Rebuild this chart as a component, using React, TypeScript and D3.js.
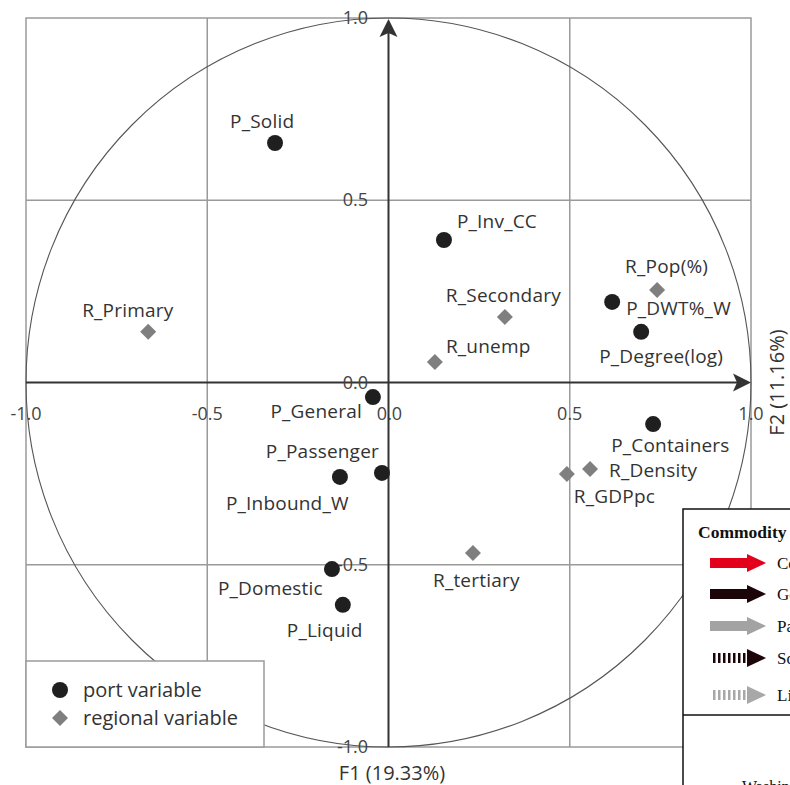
import React from "react";
import { scaleLinear } from "d3";

// port variables (circles)
const portNames = ["P_Solid", "P_Inv_CC", "P_DWT%_W", "P_Degree(log)", "P_General", "P_Passenger", "P_Inbound_W", "P_Domestic", "P_Liquid", "P_Containers"];
const portF1 = [-0.313, 0.153, 0.617, 0.697, -0.043, -0.018, -0.134, -0.156, -0.126, 0.730];
const portF2 = [0.657, 0.391, 0.221, 0.139, -0.040, -0.248, -0.259, -0.512, -0.610, -0.114];

// regional variables (diamonds)
const regionNames = ["R_Primary", "R_Secondary", "R_unemp", "R_Pop(%)", "R_Density", "R_GDPpc", "R_tertiary"];
const regionF1 = [-0.663, 0.321, 0.128, 0.741, 0.556, 0.492, 0.233];
const regionF2 = [0.139, 0.180, 0.056, 0.254, -0.237, -0.251, -0.468];

const ticks = [-1, -0.5, 0, 0.5, 1];
const tickLabels = ["-1.0", "-0.5", "0.0", "0.5", "1.0"];

const commodityLabels = ["Container", "General", "Passenger", "Solid", "Liquid"];

// label placement relative to the marker: [dx, dy, anchor]
const labelOffset: Record<string, [number, number, string]> = {
  "P_Solid": [-45, -15, "start"],
  "R_Primary": [-66, -15, "start"],
  "P_Inv_CC": [13, -12, "start"],
  "R_Secondary": [-59, -15, "start"],
  "R_unemp": [11, -9, "start"],
  "R_Pop(%)": [-32, -17, "start"],
  "P_DWT%_W": [14, 13, "start"],
  "P_Degree(log)": [-42, 31, "start"],
  "P_General": [-11, 21, "end"],
  "P_Passenger": [-3, -15, "end"],
  "P_Inbound_W": [-114, 33, "start"],
  "P_Domestic": [-114, 26, "start"],
  "P_Liquid": [-56, 32, "start"],
  "P_Containers": [-42, 28, "start"],
  "R_Density": [19, 8, "start"],
  "R_GDPpc": [7, 29, "start"],
  "R_tertiary": [-40, 34, "start"],
};

const W = 790;
const H = 785;
const font = "'Open Sans', sans-serif";

export default function App() {
  const x = scaleLinear().domain([-1, 1]).range([26, 751]);
  const y = scaleLinear().domain([-1, 1]).range([747, 18]);
  const x0 = x(0);
  const y0 = y(0);
  const gridCol = "#9a9a9a";
  const axisCol = "#333";
  const txt = "#333";

  const diamond = (cx: number, cy: number, r: number) =>
    `M${cx},${cy - r}L${cx + r},${cy}L${cx},${cy + r}L${cx - r},${cy}Z`;

  const label = (name: string, px: number, py: number) => {
    const [dx, dy, anchor] = labelOffset[name];
    return (
      <text key={"l" + name} x={px + dx} y={py + dy} textAnchor={anchor as any}
        fontFamily={font} fontSize={19} fill={txt} letterSpacing={0.2}>{name}</text>
    );
  };

  // overlay legend (commodity arrows)
  const arrowRows = [563, 594, 626, 658, 695];
  const arrowCols = ["#e3001b", "#1c0508", "#a3a3a3", "#1c0508", "#a8a8a8"];

  return (
    <svg width={W} height={H} style={{ position: "absolute", left: 0, top: 0, background: "#fff" }}>
      <rect x={0} y={0} width={W} height={H} fill="#fff" />
      {/* frame */}
      <rect x={x(-1)} y={y(1)} width={x(1) - x(-1)} height={y(-1) - y(1)} fill="none" stroke={gridCol} strokeWidth={1.5} />
      {/* grid */}
      {[-0.5, 0.5].map((v) => (
        <g key={"g" + v}>
          <line x1={x(v)} x2={x(v)} y1={y(1)} y2={y(-1)} stroke={gridCol} strokeWidth={1.5} />
          <line x1={x(-1)} x2={x(1)} y1={y(v)} y2={y(v)} stroke={gridCol} strokeWidth={1.5} />
        </g>
      ))}
      {/* correlation circle */}
      <ellipse cx={x0} cy={y0} rx={x(1) - x0} ry={y(-1) - y0} fill="none" stroke="#555" strokeWidth={1.1} />
      {/* axes */}
      <line x1={x(-1)} x2={x(1) - 12} y1={y0} y2={y0} stroke={axisCol} strokeWidth={2} />
      <path d={`M${x(1)},${y0}L${x(1) - 18},${y0 - 9}L${x(1) - 14},${y0}L${x(1) - 18},${y0 + 9}Z`} fill={axisCol} />
      <line x1={x0} x2={x0} y1={y(-1)} y2={y(1) + 12} stroke={axisCol} strokeWidth={2} />
      <path d={`M${x0},${y(1) + 1}L${x0 - 9},${y(1) + 19}L${x0},${y(1) + 15}L${x0 + 9},${y(1) + 19}Z`} fill={axisCol} />
      {/* tick labels */}
      {ticks.map((t, i) => (
        <text key={"xt" + t} x={x(t) + (t === 0 ? 1 : 0)} y={420} textAnchor="middle" fontFamily={font} fontSize={18} fill="#444">{tickLabels[i]}</text>
      ))}
      {ticks.map((t, i) => (
        <text key={"yt" + t} x={368} y={y(t) + 6} textAnchor="end" fontFamily={font} fontSize={18} fill="#444">{tickLabels[i]}</text>
      ))}
      {/* axis titles */}
      <text x={392} y={780} textAnchor="middle" fontFamily={font} fontSize={20} fill={txt}>F1 (19.33%)</text>
      <text transform={`translate(784,${y0}) rotate(-90)`} textAnchor="middle" fontFamily={font} fontSize={20} fill={txt}>F2 (11.16%)</text>
      {/* points */}
      {regionNames.map((n, i) => (
        <path key={"r" + n} d={diamond(x(regionF1[i]), y(regionF2[i]), 8)} fill="#7f7f7f" />
      ))}
      {portNames.map((n, i) => (
        <circle key={"p" + n} cx={x(portF1[i])} cy={y(portF2[i])} r={8} fill="#1f1f1f" />
      ))}
      {regionNames.map((n, i) => label(n, x(regionF1[i]), y(regionF2[i])))}
      {portNames.map((n, i) => label(n, x(portF1[i]), y(portF2[i])))}
      {/* legend */}
      <rect x={26} y={661} width={238} height={86} fill="#fff" stroke={gridCol} strokeWidth={1.5} />
      <circle cx={60} cy={690} r={8} fill="#1f1f1f" />
      <text x={83} y={697} fontFamily={font} fontSize={20} fill={txt}>port variable</text>
      <path d={diamond(60, 718, 8)} fill="#7f7f7f" />
      <text x={83} y={725} fontFamily={font} fontSize={20} fill={txt}>regional variable</text>
      {/* overlapping commodity legend */}
      <rect x={683} y={509} width={140} height={300} fill="#fff" stroke="#111" strokeWidth={1.5} />
      <line x1={683} x2={W} y1={715} y2={715} stroke="#111" strokeWidth={1.5} />
      <text x={698} y={538} fontFamily="'Liberation Serif', serif" fontWeight="bold" fontSize={17.5} fill="#111">Commodity</text>
      {arrowRows.map((ry, i) => {
        const dashed = i >= 3;
        const c = arrowCols[i];
        return (
          <g key={"a" + i}>
            {dashed ? (
              <line x1={713} x2={748} y1={ry} y2={ry} stroke={c} strokeWidth={10} strokeDasharray="2.5,2.5" />
            ) : (
              <rect x={710} y={ry - 5} width={38} height={10} fill={c} />
            )}
            <path d={`M747,${ry - 9}L766,${ry}L747,${ry + 9}Z`} fill={c} />
            <text x={777} y={ry + 6} fontFamily="'Liberation Serif', serif" fontSize={17} fill="#111">{commodityLabels[i]}</text>
          </g>
        );
      })}
      <text x={742} y={792} fontFamily="'Liberation Serif', serif" fontSize={16} fill="#111">Washington</text>
    </svg>
  );
}
